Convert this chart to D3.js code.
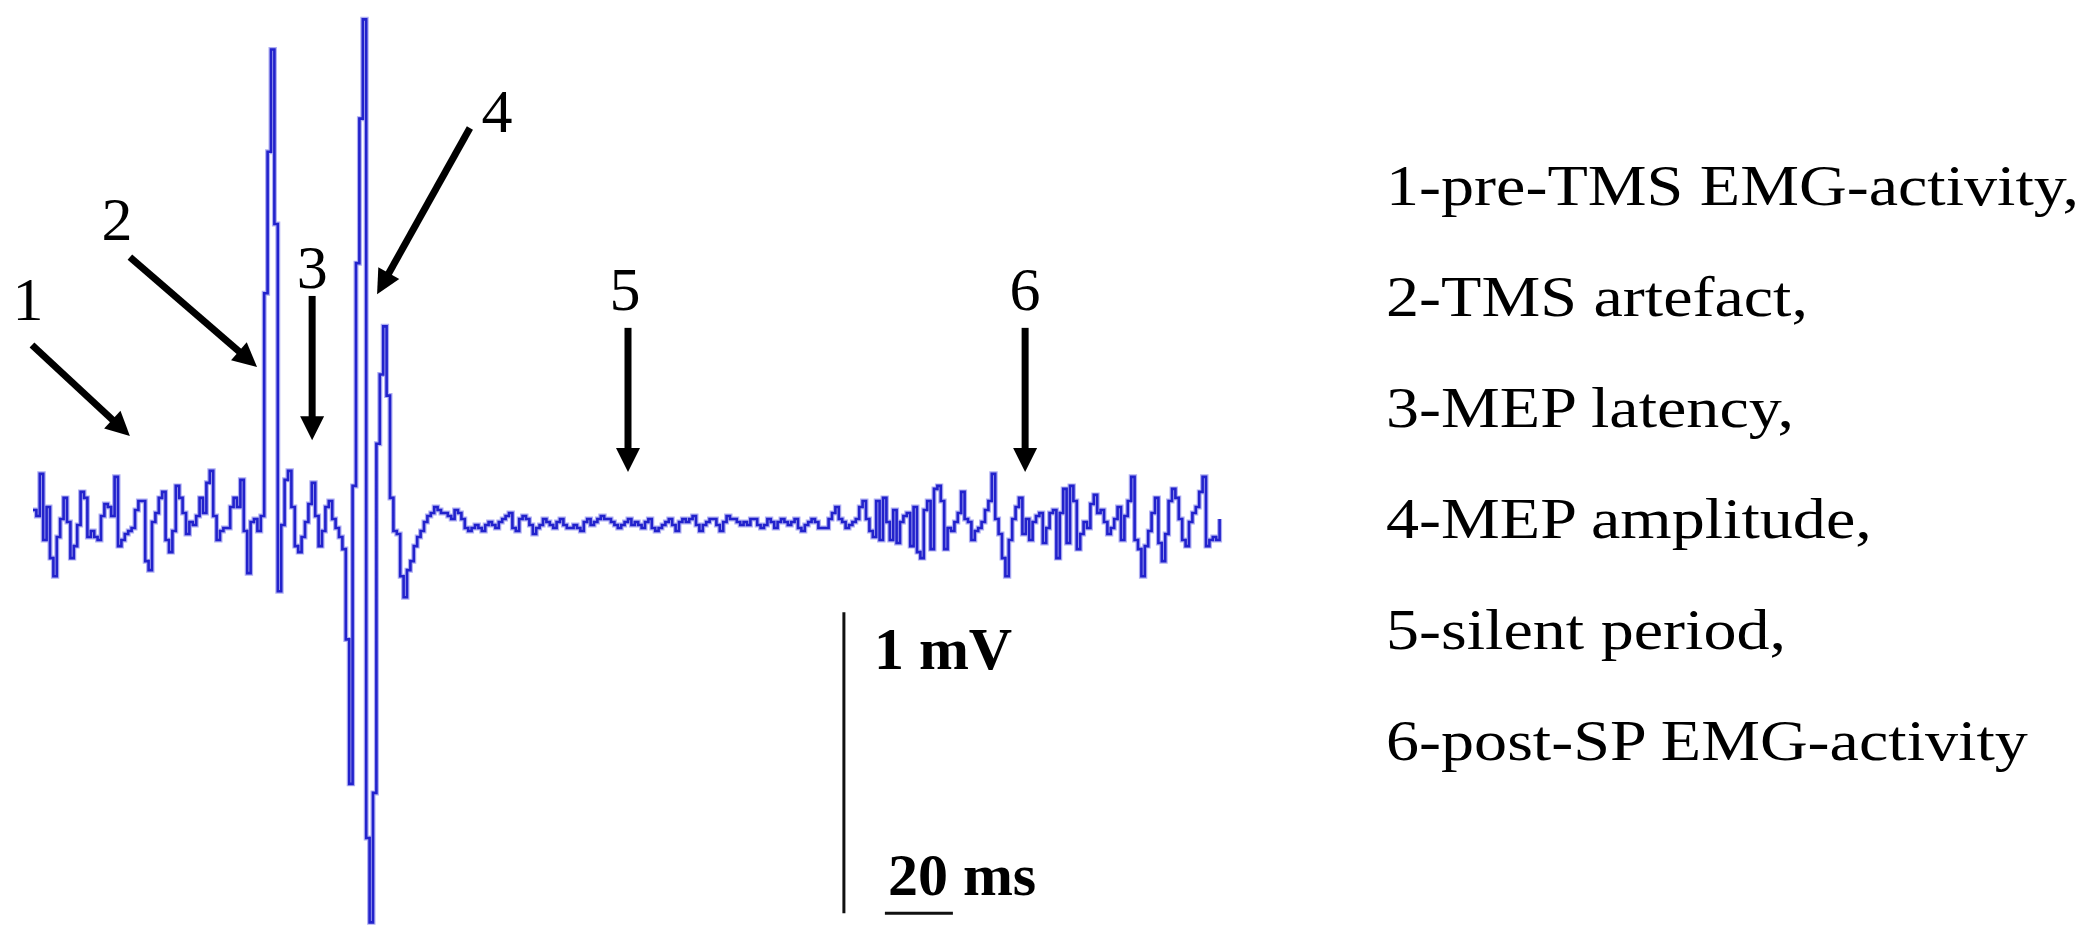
<!DOCTYPE html>
<html><head><meta charset="utf-8">
<script src="https://cdn.jsdelivr.net/npm/d3@7"></script>
<style>html,body{margin:0;padding:0;background:#fff;overflow:hidden} svg{display:block}</style>
</head><body>
<svg id="chart" width="2095" height="941"></svg>
<script>
// ---------- DATA (time in ms from trace start, amplitude in mV) ----------
const sampleMs = 1;
const preTms = [0.04, 0.02, 0.16, -0.06, 0.05, -0.12, -0.18, -0.05, 0.01, 0.08,
  0.00, -0.12, -0.08, -0.01, 0.10, 0.08, -0.05, -0.03, -0.05, -0.06,
  0.02, 0.06, 0.05, 0.02, 0.15, -0.08, -0.06, -0.04, -0.03, -0.02,
  0.04, 0.07, 0.07, -0.13, -0.16, 0.00, 0.03, 0.08, 0.10, -0.06,
  -0.10, -0.03, 0.12, 0.08, 0.03, -0.04, 0.00, -0.01, 0.02, 0.08,
  0.03, 0.13, 0.17, 0.02, -0.06, -0.03, -0.02, -0.02, 0.05, 0.08,
  0.05, 0.14, -0.03, -0.17, 0.00, 0.01, -0.03, 0.02];
const artefact = [0.76, 1.23, 1.57, 0.99, -0.23, -0.01, 0.14, 0.17, 0.05, -0.08,
  -0.10, -0.05, 0.00, 0.06, 0.13, 0.02, -0.08, -0.03, 0.05, 0.07,
  0.01, -0.02, -0.05, -0.09];
const mep = [-0.39, -0.87, 0.12, 0.86, 1.34, 1.67, -1.05, -1.33, -0.90, 0.26,
  0.49, 0.65, 0.42, 0.08, -0.03, -0.04, -0.18, -0.25, -0.16, -0.13,
  -0.08, -0.05, -0.03, 0.00, 0.02, 0.03, 0.05];
const silent = [0.04, 0.03, 0.03, 0.02, 0.01, 0.04, 0.03, 0.01, -0.02, -0.03,
  -0.02, -0.01, -0.02, -0.03, -0.01, 0.00, -0.01, -0.02, 0.00, 0.01,
  0.02, 0.03, -0.02, -0.03, 0.01, 0.02, 0.01, -0.01, -0.04, -0.02,
  -0.01, 0.01, 0.00, -0.01, -0.02, 0.00, 0.01, -0.01, -0.02, -0.02,
  -0.01, -0.02, -0.03, 0.00, 0.01, -0.01, 0.00, 0.01, 0.02, 0.01,
  0.01, 0.00, -0.01, -0.02, -0.01, 0.00, 0.01, -0.01, 0.00, -0.01,
  -0.02, 0.00, 0.01, -0.02, -0.03, -0.02, -0.01, 0.00, 0.01, -0.01,
  -0.03, 0.00, 0.01, 0.00, 0.01, 0.02, -0.01, -0.03, -0.01, 0.00,
  0.01, 0.01, -0.01, -0.03, 0.00, 0.02, 0.01, 0.01, 0.00, -0.01,
  0.00, -0.01, 0.01, 0.01, -0.01, -0.02, -0.01, 0.01, 0.00, -0.02,
  0.00, 0.01, 0.00, -0.01, 0.00, 0.01, -0.02, -0.03, -0.01, 0.00,
  0.01, 0.00, -0.02, -0.02, -0.02, 0.01, 0.03];
const postSp = [0.05, 0.01, 0.00, -0.02, -0.01, 0.00, 0.01, 0.05, 0.07, 0.01,
  -0.03, -0.05, 0.07, -0.06, 0.08, 0.00, -0.06, 0.04, -0.07, 0.00,
  0.02, 0.03, -0.08, 0.05, -0.10, -0.12, 0.04, 0.07, -0.09, 0.11,
  0.12, 0.07, -0.09, -0.02, -0.03, 0.00, 0.03, 0.10, 0.01, 0.00,
  -0.06, -0.03, -0.02, 0.00, 0.04, 0.07, 0.16, 0.01, -0.04, -0.12,
  -0.18, -0.06, 0.01, 0.05, 0.08, -0.04, 0.01, -0.06, 0.00, 0.02,
  0.03, -0.07, -0.02, 0.03, 0.04, -0.12, 0.03, 0.11, -0.07, 0.12,
  0.07, -0.09, -0.04, 0.00, -0.02, 0.06, 0.09, 0.03, 0.04, 0.00,
  -0.04, -0.02, 0.01, 0.05, -0.06, 0.02, 0.07, 0.15, -0.06, -0.09,
  -0.18, -0.08, -0.03, 0.03, 0.08, -0.07, -0.13, -0.04, 0.07, 0.11,
  0.08, 0.01, -0.06, -0.08, 0.00, 0.03, 0.05, 0.10, 0.15, -0.08,
  -0.06, -0.05, -0.06, 0.01];

// annotation arrows (data units: ms, mV)
const markerLabels = ["1", "2", "3", "4", "5", "6"];
const labelMs   = [-1.5, 24.7, 82.1, 136.5, 174.1, 291.8];
const labelMv   = [0.671, 0.937, 0.777, 1.296, 0.704, 0.704];
const tailMs    = [-0.3, 28.5, 82.1, 128.5, 175.0, 291.8];
const tailMv    = [0.588, 0.880, 0.751, 1.309, 0.645, 0.645];
const tipMs     = [28.5, 65.9, 82.1, 101.2, 175.0, 291.8];
const tipMv     = [0.286, 0.515, 0.272, 0.757, 0.166, 0.166];

// calibration bars
const scaleBarMv = 1;
const scaleBarMs = 20;
const scaleBarLabels = ["1 mV", "20 ms"];
const scaleBarAtMs = 238.5;
const scaleBarTopMv = -0.3;

const legendItems = ["1-pre-TMS EMG-activity,", "2-TMS artefact,", "3-MEP latency,",
  "4-MEP amplitude,", "5-silent period,", "6-post-SP EMG-activity"];

// ---------- DRAW ----------
const svg = d3.select("#chart");
const signal = [].concat(preTms, artefact, mep, silent, postSp)
  .map((v, i) => ({ t: i * sampleMs, v }));

const x = d3.scaleLinear().domain([0, 350]).range([33, 1223]);
const y = d3.scaleLinear().domain([0, 1]).range([522, 221]);

const line = d3.line().x(d => x(d.t)).y(d => y(d.v)).curve(d3.curveStepAfter);

svg.append("path").datum(signal)
  .attr("d", line)
  .attr("fill", "none")
  .attr("stroke", "#aeaef2")
  .attr("stroke-width", 5)
  .attr("stroke-linejoin", "miter");
svg.append("path").datum(signal)
  .attr("d", line)
  .attr("fill", "none")
  .attr("stroke", "#2222cc")
  .attr("stroke-width", 2.6)
  .attr("stroke-linejoin", "miter");

// arrows
const headLen = 24, headHalf = 12;
const gA = svg.append("g");
markerLabels.forEach((lab, i) => {
  const x1 = x(tailMs[i]), y1 = y(tailMv[i]);
  const x2 = x(tipMs[i]), y2 = y(tipMv[i]);
  const dx = x2 - x1, dy = y2 - y1, len = Math.hypot(dx, dy);
  const ux = dx / len, uy = dy / len;
  const bx = x2 - ux * headLen, by = y2 - uy * headLen;
  gA.append("line").attr("x1", x1).attr("y1", y1).attr("x2", bx + ux * 2).attr("y2", by + uy * 2)
    .attr("stroke", "#000").attr("stroke-width", 7);
  gA.append("path")
    .attr("d", `M${x2},${y2}L${bx - uy * headHalf},${by + ux * headHalf}L${bx + uy * headHalf},${by - ux * headHalf}Z`)
    .attr("fill", "#000");
  gA.append("text").attr("x", x(labelMs[i])).attr("y", y(labelMv[i]))
    .attr("text-anchor", "middle")
    .attr("font-family", "'Liberation Serif', 'Times New Roman', serif")
    .attr("font-size", 62).attr("fill", "#000").text(lab);
});

// calibration bars
const barX = x(scaleBarAtMs);
const barTop = y(scaleBarTopMv), barBot = y(scaleBarTopMv - scaleBarMv);
svg.append("line").attr("x1", barX).attr("x2", barX).attr("y1", barTop).attr("y2", barBot)
  .attr("stroke", "#111").attr("stroke-width", 3);
const hx0 = barX + 41;
svg.append("line").attr("x1", hx0).attr("x2", hx0 + (x(scaleBarMs) - x(0))).attr("y1", barBot).attr("y2", barBot)
  .attr("stroke", "#111").attr("stroke-width", 3);
svg.append("text").attr("x", barX + 30).attr("y", barTop + 57)
  .attr("font-family", "'Liberation Serif', 'Times New Roman', serif").attr("font-weight", "bold")
  .attr("font-size", 60).attr("fill", "#000").text(scaleBarLabels[0]);
svg.append("text").attr("x", hx0 + 3).attr("y", barBot - 18)
  .attr("font-family", "'Liberation Serif', 'Times New Roman', serif").attr("font-weight", "bold")
  .attr("font-size", 60).attr("fill", "#000").text(scaleBarLabels[1]);

// legend
const gL = svg.append("g");
legendItems.forEach((txt, i) => {
  const t = gL.append("text").attr("x", 1386).attr("y", 205 + i * 111)
    .attr("font-family", "'Liberation Serif', 'Times New Roman', serif")
    .attr("font-size", 56).attr("fill", "#000").text(txt);
  const w = t.node().getComputedTextLength();
  t.attr("textLength", w * 1.18).attr("lengthAdjust", "spacingAndGlyphs");
});
</script>
</body></html>
